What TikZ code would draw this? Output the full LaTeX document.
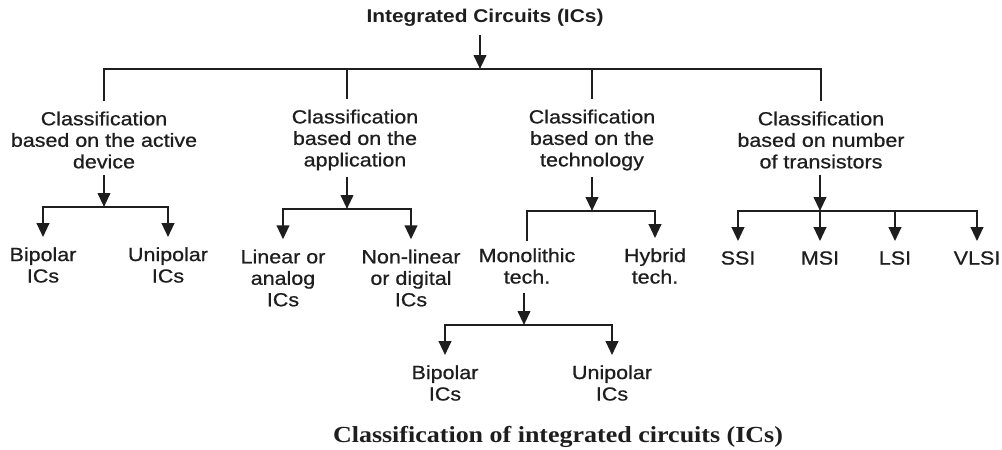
\documentclass[tikz,border=0pt]{standalone}
\usepackage{fontspec}
\setmainfont{Liberation Sans}[FakeStretch=1.13,FakeBold=0.7]
\newfontfamily\headfont{Liberation Sans Bold}[FakeStretch=1.13]
\newfontfamily\capfont{Liberation Serif}[FakeStretch=1.13]
\usetikzlibrary{arrows.meta}
\definecolor{ink}{HTML}{1E1E1E}

\begin{document}
\begin{tikzpicture}[x=1pt,y=-1pt,
  conn/.style={line width=2.4pt, draw=ink, line join=miter},
  arr/.style={conn, -{Triangle[length=14pt,width=12.5pt]}},
  txt/.style={inner sep=0pt, align=center, text=ink, font=\fontsize{19}{21.5}\selectfont},
  headline/.style={inner sep=0pt, text=ink, font=\headfont\fontsize{18.5}{22}\selectfont},
  capt/.style={inner sep=0pt, text=ink, font=\capfont\bfseries\fontsize{23}{26}\selectfont}
]
\fill[white] (0,0) rectangle (1002,450);
\useasboundingbox (0,0) rectangle (1002,450);

% root and the four classification headings
\node[headline] (ic) at (485,18) {Integrated Circuits (ICs)};
\node[txt] (c1) at (104,140) {Classification\\based on the active\\device};
\node[txt] (c2) at (355,140) {Classification\\based on the\\application};
\node[txt] (c3) at (592,140) {Classification\\based on the\\technology};
\node[txt] (c4) at (821,140) {Classification\\based on number\\of transistors};

% branching points
\coordinate (j0) at (480,69);
\coordinate (j1) at (104,207);
\coordinate (j2) at (347,209);
\coordinate (j3) at (592,211);
\coordinate (j4) at (820,211);
\coordinate (j5) at (524,325);

% root to headings
\draw[arr] ([yshift=-8pt]ic.south -| j0) -- (j0);
\draw[conn] ([yshift=10pt]c1.north) |- (j0) -| ([yshift=10pt]c4.north);
\draw[conn] (j0 -| j2) -- ([yshift=10pt]c2.north -| j2);
\draw[conn] (j0 -| c3) -- ([yshift=10pt]c3.north);

% active device
\node[txt] (a1) at (43,265) {Bipolar\\ICs};
\node[txt] (a2) at (168,265) {Unipolar\\ICs};
\draw[arr] ([yshift=-6pt]c1.south) -- (j1);
\draw[arr] (j1) -| ([yshift=10pt]a1.north);
\draw[arr] (j1) -| ([yshift=10pt]a2.north);

% application
\node[txt] (b1) at (283,278) {Linear or\\analog\\ICs};
\node[txt] (b2) at (411,278) {Non-linear\\or digital\\ICs};
\draw[arr] ([yshift=-6pt]c2.south -| j2) -- (j2);
\draw[arr] (j2) -| ([yshift=10pt]b1.north);
\draw[arr] (j2) -| ([yshift=10pt]b2.north);

% technology
\node[txt] (m) at (527,266) {Monolithic\\tech.};
\node[txt] (h) at (655,266) {Hybrid\\tech.};
\draw[arr] ([yshift=-6pt]c3.south) -- (j3);
\draw[conn] (j3) -| ([yshift=7pt]m.north);
\draw[arr] (j3) -| ([yshift=10pt]h.north);

% monolithic technology
\node[txt] (d1) at (445,383) {Bipolar\\ICs};
\node[txt] (d2) at (612,383) {Unipolar\\ICs};
\draw[arr] ([yshift=-9pt]m.south -| j5) -- (j5);
\draw[arr] (j5) -| ([yshift=10pt]d1.north);
\draw[arr] (j5) -| ([yshift=10pt]d2.north);

% number of transistors
\node[txt] (s1) at (738,258) {SSI};
\node[txt] (s2) at (820,258) {MSI};
\node[txt] (s3) at (895,258) {LSI};
\node[txt] (s4) at (977,258) {VLSI};
\draw[arr] ([yshift=-6pt]c4.south -| j4) -- (j4);
\draw[arr] (j4) -| ([yshift=10pt]s1.north);
\draw[arr] (j4) -- ([yshift=10pt]s2.north);
\draw[arr] (j4) -| ([yshift=10pt]s3.north);
\draw[arr] (j4) -| ([yshift=10pt]s4.north);

% caption
\node[capt] (cap) at (558,437) {Classification of integrated circuits (ICs)};
\end{tikzpicture}
\end{document}
